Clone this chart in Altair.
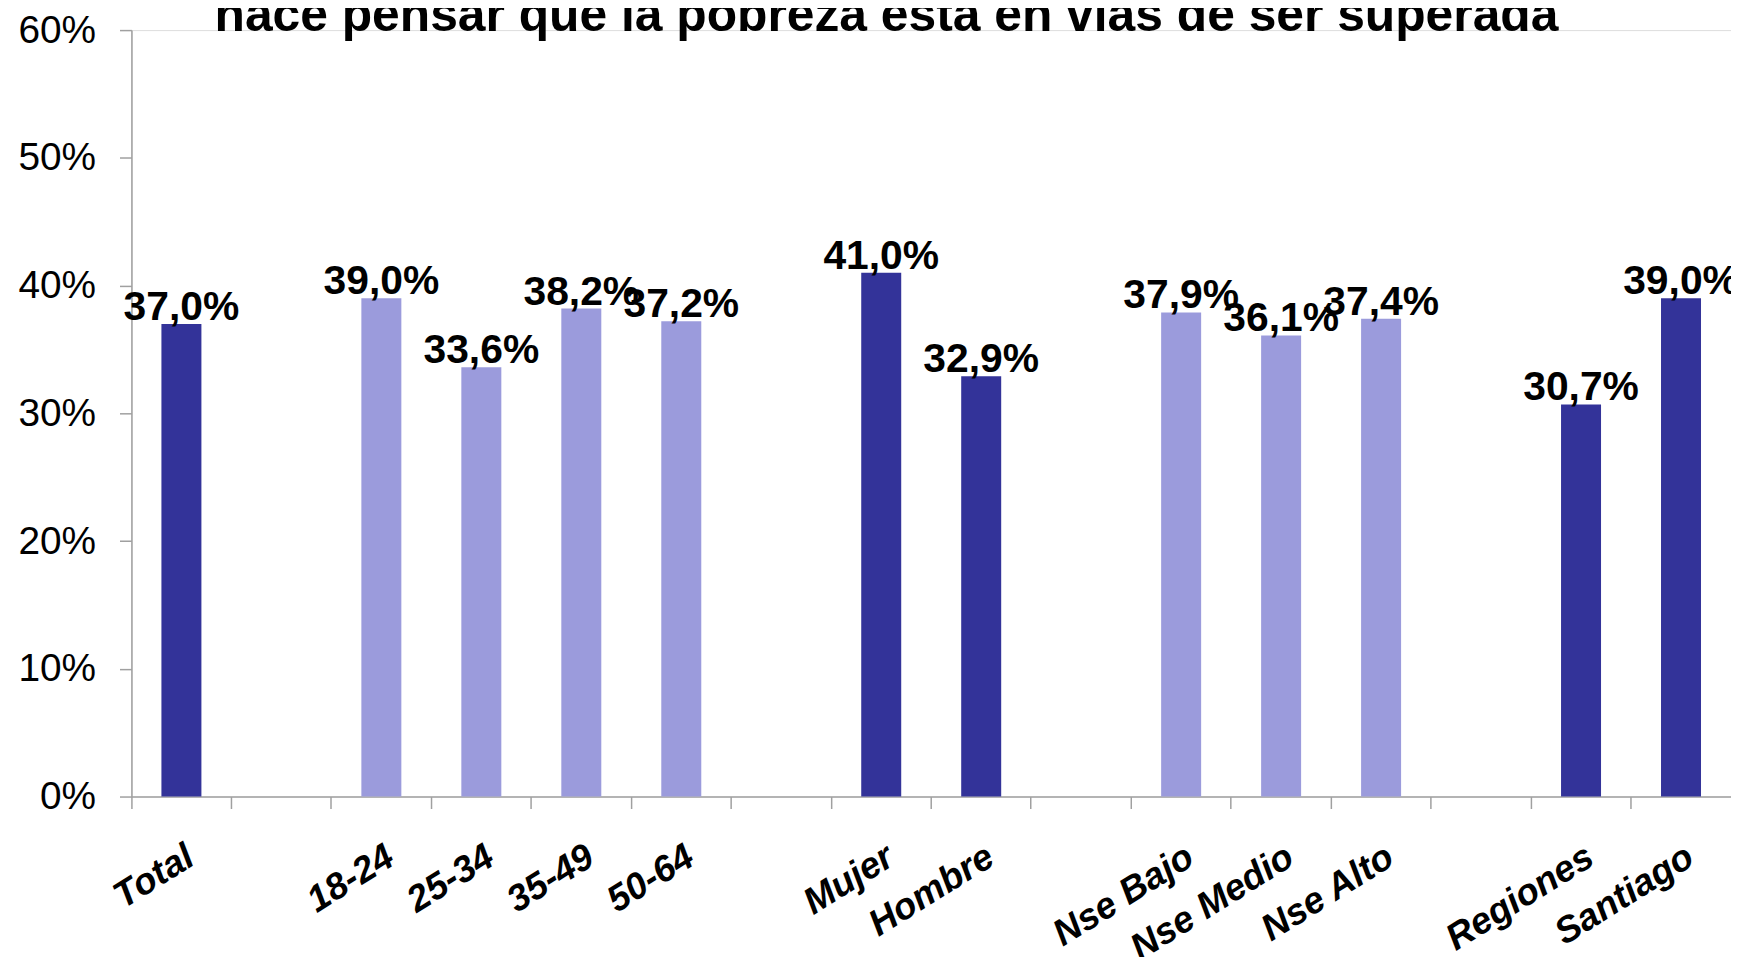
import altair as alt
import pandas as pd

# Category slots along the x axis (blank slots separate the groups)
slots = ["Total", " ", "18-24", "25-34", "35-49", "50-64", "  ", "Mujer", "Hombre",
         "   ", "Nse Bajo", "Nse Medio", "Nse Alto", "    ", "Regiones", "Santiago"]
categories = ["Total", "18-24", "25-34", "35-49", "50-64", "Mujer", "Hombre",
              "Nse Bajo", "Nse Medio", "Nse Alto", "Regiones", "Santiago"]
values_pct = [37.0, 39.0, 33.6, 38.2, 37.2, 41.0, 32.9, 37.9, 36.1, 37.4, 30.7, 39.0]
groups = ["Total", "Edad", "Edad", "Edad", "Edad", "Sexo", "Sexo",
          "NSE", "NSE", "NSE", "Zona", "Zona"]
group_names = ["Total", "Edad", "Sexo", "NSE", "Zona"]
group_colors = ["#333399", "#9B9BDC", "#333399", "#9B9BDC", "#333399"]
y_ticks = [0.0, 0.1, 0.2, 0.3, 0.4, 0.5, 0.6]
title_text = "hace pensar que la pobreza esta en vias de ser superada"

df = pd.DataFrame({
    "categoria": categories,
    "valor": [v / 100 for v in values_pct],
    "grupo": groups,
})

FONT = "Liberation Sans"

x_enc = alt.X(
    "categoria:N",
    sort=None,
    scale=alt.Scale(domain=slots, paddingInner=0, paddingOuter=0),
    axis=alt.Axis(
        title=None,
        bandPosition=0,
        labelAngle=-32,
        labelAlign="right",
        labelBaseline="top",
        labelPadding=30,
        labelFont=FONT,
        labelFontSize=37,
        labelFontWeight="bold",
        labelFontStyle="italic",
        labelColor="black",
        labelLimit=400,
        labelOverlap=False,
        domainColor="#a0a0a0",
        domainWidth=1.5,
        tickColor="#a0a0a0",
        tickWidth=1.5,
        tickSize=12,
        grid=False,
    ),
)

y_enc = alt.Y(
    "valor:Q",
    scale=alt.Scale(domain=[0, 0.6], nice=False, zero=True),
    axis=alt.Axis(
        title=None,
        values=y_ticks,
        format=".0%",
        labelFont=FONT,
        labelFontSize=39,
        labelColor="black",
        labelPadding=24,
        domainColor="#a0a0a0",
        domainWidth=1.5,
        tickColor="#a0a0a0",
        tickWidth=1.5,
        tickSize=12,
        grid=False,
    ),
)

base = alt.Chart(df).encode(x=x_enc, y=y_enc)

bars = base.mark_bar(width=alt.RelativeBandSize(0.4)).encode(
    color=alt.Color("grupo:N", scale=alt.Scale(domain=group_names, range=group_colors), legend=None)
)

labels = base.transform_calculate(
    etiqueta="replace(format(datum.valor, '.1%'), '.', ',')"
).mark_text(
    font=FONT, fontSize=41, fontWeight="bold", color="black",
    align="center", baseline="alphabetic", dy=-4,
).encode(text="etiqueta:N")

chart = alt.layer(bars, labels).properties(
    width=1607,
    height=770,
    autosize=alt.AutoSizeParams(type="none"),
    padding={"left": 124, "top": 20, "right": 0, "bottom": 159},
    title=alt.TitleParams(
        text=title_text,
        font=FONT,
        fontSize=50,
        fontWeight="bold",
        color="black",
        anchor="middle",
        frame="group",
        baseline="alphabetic",
        dx=-45,
        offset=-70,
    ),
).configure_view(stroke="transparent").configure(background="white")

chart.save("out.html", embed_options={"renderer": "svg", "actions": False})
